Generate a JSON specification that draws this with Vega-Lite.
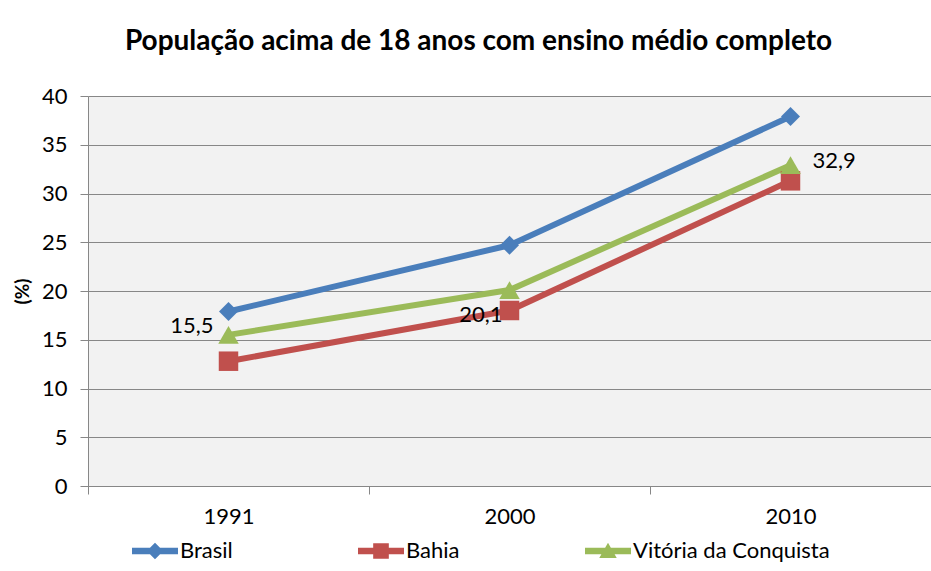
{
  "$schema": "https://vega.github.io/schema/vega-lite/v6.json",
  "width": 843,
  "height": 390,
  "autosize": {"type": "none"},
  "padding": {"left": 88, "top": 96, "right": 0, "bottom": 85},
  "background": "white",
  "config": {
    "font": "Lato",
    "view": {"fill": "#F2F2F2", "stroke": null},
    "axis": {"labelFont": "Lato", "labelColor": "black", "titleColor": "black", "titleFont": "Lato"}
  },
  "title": {
    "text": "População acima de 18 anos com ensino médio completo",
    "font": "Lato",
    "fontSize": 28,
    "fontWeight": "bold",
    "color": "black",
    "anchor": "middle",
    "frame": "bounds",
    "offset": 29,
    "dx": 6
  },
  "data": {
    "values": [
      {"ano": "1991", "local": "Brasil", "valor": 17.9},
      {"ano": "2000", "local": "Brasil", "valor": 24.7},
      {"ano": "2010", "local": "Brasil", "valor": 37.9},
      {"ano": "1991", "local": "Bahia", "valor": 12.8},
      {"ano": "2000", "local": "Bahia", "valor": 18.0},
      {"ano": "2010", "local": "Bahia", "valor": 31.3},
      {"ano": "1991", "local": "Vitória da Conquista", "valor": 15.5, "rotulo": "15,5"},
      {"ano": "2000", "local": "Vitória da Conquista", "valor": 20.1, "rotulo": "20,1"},
      {"ano": "2010", "local": "Vitória da Conquista", "valor": 32.9, "rotulo": "32,9"}
    ]
  },
  "encoding": {
    "x": {
      "field": "ano",
      "type": "ordinal",
      "scale": {"type": "band", "paddingInner": 0, "paddingOuter": 0},
      "axis": {
        "title": null,
        "labelAngle": 0,
        "labelFontSize": 22,
        "labelPadding": 12,
        "tickBand": "extent",
        "tickSize": 8,
        "tickColor": "#878787",
        "domainColor": "#878787",
        "grid": false
      }
    },
    "y": {
      "field": "valor",
      "type": "quantitative",
      "scale": {"domain": [0, 40], "nice": false, "zero": true},
      "axis": {
        "values": [0, 5, 10, 15, 20, 25, 30, 35, 40],
        "grid": true,
        "gridColor": "#878787",
        "gridWidth": 1,
        "domainColor": "#878787",
        "tickColor": "#878787",
        "tickSize": 8,
        "labelFontSize": 22,
        "labelPadding": 13,
        "title": "(%)",
        "titleFontSize": 19,
        "titleFontWeight": "bold",
        "titlePadding": 9
      }
    },
    "color": {
      "field": "local",
      "type": "nominal",
      "sort": ["Brasil", "Bahia", "Vitória da Conquista"],
      "scale": {"domain": ["Brasil", "Bahia", "Vitória da Conquista"], "range": ["#4A7EBB", "#C0504D", "#9BBB59"]},
      "legend": {
        "orient": "none",
        "legendX": 44,
        "legendY": 432,
        "direction": "horizontal",
        "columns": 3,
        "title": null,
        "symbolSize": 2116,
        "symbolStrokeWidth": 0,
        "labelFontSize": 22,
        "labelFont": "Lato",
        "labelColor": "black",
        "labelOffset": 2,
        "labelLimit": 400,
        "columnPadding": 125,
        "gridAlign": "each",
        "encode": {
          "symbols": {
            "update": {
              "shape": {"signal": "datum.value === 'Brasil' ? 'M-1,-0.14H1V0.14H-1Z M-0.36,0L0,-0.36L0.36,0L0,0.36Z' : datum.value === 'Bahia' ? 'M-1,-0.14H1V0.14H-1Z M-0.34,-0.34H0.34V0.34H-0.34Z' : 'M-1,-0.14H1V0.14H-1Z M-0.38,0.3L0,-0.36L0.38,0.3Z'"},
              "fill": {"signal": "datum.value === 'Brasil' ? '#4A7EBB' : datum.value === 'Bahia' ? '#C0504D' : '#9BBB59'"},
              "stroke": {"value": null},
              "strokeWidth": {"value": 0},
              "opacity": {"value": 1},
              "fillOpacity": {"value": 1}
            }
          }
        }
      }
    }
  },
  "layer": [
    {"mark": {"type": "line", "strokeWidth": 6}},
    {
      "transform": [{"filter": "datum.local === 'Brasil'"}],
      "mark": {"type": "point", "shape": "diamond", "filled": true, "opacity": 1, "size": 360}
    },
    {
      "transform": [{"filter": "datum.local === 'Bahia'"}],
      "mark": {"type": "point", "shape": "square", "filled": true, "opacity": 1, "size": 380}
    },
    {
      "transform": [{"filter": "datum.local === 'Vitória da Conquista'"}],
      "mark": {"type": "point", "shape": "triangle-up", "filled": true, "opacity": 1, "size": 420}
    },
    {
      "transform": [{"filter": "datum.rotulo && datum.ano === '1991'"}],
      "mark": {"type": "text", "align": "right", "baseline": "middle", "dx": -15, "dy": -9, "fontSize": 22, "font": "Lato", "color": "black"},
      "encoding": {"text": {"field": "rotulo"}, "color": {"value": "black"}}
    },
    {
      "transform": [{"filter": "datum.rotulo && datum.ano === '2000'"}],
      "mark": {"type": "text", "align": "right", "baseline": "middle", "dx": -7, "dy": 25, "fontSize": 22, "font": "Lato", "color": "black"},
      "encoding": {"text": {"field": "rotulo"}, "color": {"value": "black"}}
    },
    {
      "transform": [{"filter": "datum.rotulo && datum.ano === '2010'"}],
      "mark": {"type": "text", "align": "left", "baseline": "middle", "dx": 22, "dy": -4, "fontSize": 22, "font": "Lato", "color": "black"},
      "encoding": {"text": {"field": "rotulo"}, "color": {"value": "black"}}
    }
  ]
}
